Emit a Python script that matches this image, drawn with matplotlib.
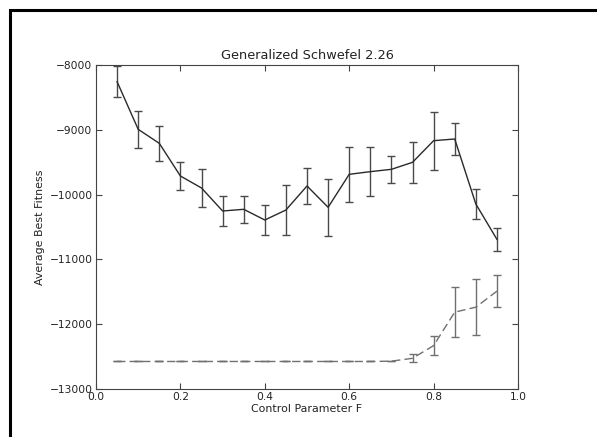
import matplotlib
matplotlib.use('Agg')
import matplotlib.pyplot as plt
from matplotlib.patches import Rectangle
import numpy as np

F = [0.05, 0.1, 0.15, 0.2, 0.25, 0.3, 0.35, 0.4, 0.45, 0.5,
     0.55, 0.6, 0.65, 0.7, 0.75, 0.8, 0.85, 0.9, 0.95]

# solid series
fit_a = [-8258, -8993, -9209, -9713, -9898, -10253, -10227, -10392, -10238, -9867,
         -10196, -9687, -9646, -9610, -9502, -9168, -9142, -10145, -10690]
err_a = [235, 290, 272, 219, 293, 232, 205, 231, 386, 280,
         440, 420, 373, 213, 316, 445, 240, 229, 175]

# dashed series
fit_b = [-12575, -12575, -12575, -12575, -12575, -12575, -12575, -12575, -12575, -12575,
         -12575, -12575, -12575, -12570, -12526, -12330, -11814, -11737, -11490]
err_b = [0, 0, 0, 0, 0, 0, 0, 0, 0, 0,
         0, 0, 0, 0, 60, 150, 386, 435, 252]

fig = plt.figure(figsize=(5.97, 4.37), dpi=100)
ax = fig.add_axes([0.1608, 0.1098, 0.7069, 0.7415])

ax.errorbar(F, fit_a, yerr=err_a, color='#2a2a2a', ecolor='#4a4a4a', lw=1.0,
            elinewidth=1.0, capsize=3)
ax.errorbar(F, fit_b, yerr=err_b, color='#707070', ecolor='#707070', lw=1.0,
            ls='--', dashes=(6, 3), elinewidth=1.0, capsize=3)

ax.set_xlim(0, 1)
ax.set_ylim(-13000, -8000)
ax.set_xticks([0.0, 0.2, 0.4, 0.6, 0.8, 1.0])
ax.set_yticks([-13000, -12000, -11000, -10000, -9000, -8000])
ax.tick_params(direction='in', top=True, right=True, length=4, labelsize=7.7,
               pad=2.5, colors='#444444', labelcolor='#222222')
for s in ax.spines.values():
    s.set_color('#444444')
ax.set_title('Generalized Schwefel 2.26', fontsize=9.25, color='#222222', pad=4)
ax.set_xlabel('Control Parameter F', fontsize=7.9, color='#222222', labelpad=1)
ax.set_ylabel('Average Best Fitness', fontsize=7.9, color='#222222', labelpad=3.5)

# page frame around figure
fig.add_artist(Rectangle((9.5 / 597, -0.1), 1.2, 1 - 10.5 / 437 + 0.1,
                         transform=fig.transFigure, fill=False,
                         edgecolor='black', lw=2.2))

fig.savefig('out.png', dpi=100)
